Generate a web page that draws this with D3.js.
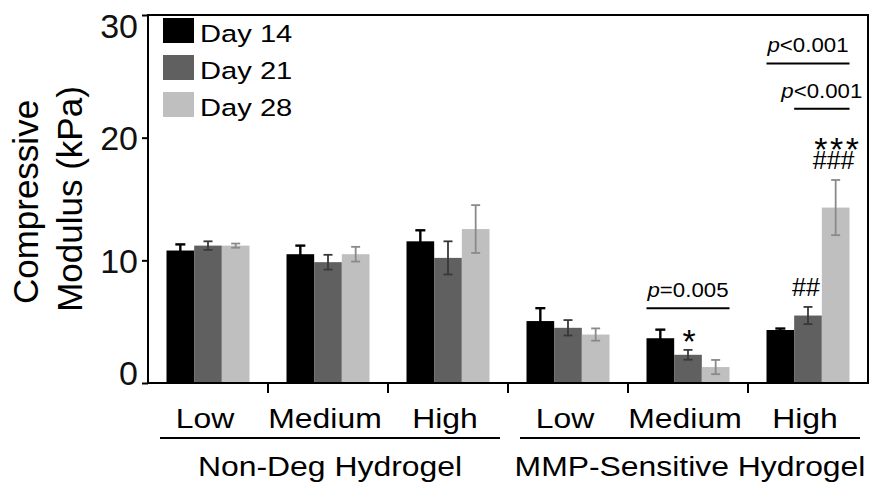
<!DOCTYPE html>
<html>
<head>
<meta charset="utf-8">
<script src="https://cdn.jsdelivr.net/npm/d3@7"></script>
<style>
  html, body { margin: 0; padding: 0; background: #fff; }
  svg { display: block; font-family: "Liberation Sans", Arial, Helvetica, sans-serif; }
</style>
</head>
<body>
<svg id="chart" width="875" height="484"></svg>
<script>
// ---------------- data ----------------
const groups = ["ND-Low", "ND-Medium", "ND-High", "MMP-Low", "MMP-Medium", "MMP-High"];
const groupLabels = ["Low", "Medium", "High", "Low", "Medium", "High"];
const hydrogelNames = ["Non-Deg Hydrogel", "MMP-Sensitive Hydrogel"];
const hydrogelOfGroup = [0, 0, 0, 1, 1, 1];
const series = ["Day 14", "Day 21", "Day 28"];
const day14 = [10.8, 10.5, 11.55, 5.05, 3.65, 4.32];
const day21 = [11.2, 9.85, 10.2, 4.5, 2.3, 5.5];
const day28 = [11.2, 10.5, 12.55, 3.95, 1.3, 14.3];
const day14Err = [0.5, 0.7, 0.9, 1.05, 0.7, 0.12];
const day21Err = [0.35, 0.6, 1.35, 0.63, 0.4, 0.7];
const day28Err = [0.17, 0.6, 1.95, 0.5, 0.58, 2.25];
const yTicks = [0, 10, 20, 30];
// significance brackets: group index, first/last series, level (kPa), label
const bracketGroup = [4, 5, 5];
const bracketFrom = [0, 0, 1];
const bracketTo = [2, 2, 2];
const bracketLevel = [6.1, 26.05, 22.35];
const bracketOp = ["=0.005", "<0.001", "<0.001"];
// significance symbols (stacked bottom-up per bar): group index, series index, text
const symGroup = [4, 5, 5, 5];
const symSeries = [1, 1, 2, 2];
const symText = ["*", "##", "###", "***"];

// ---------------- styles ----------------
const colors = ["#000000", "#606060", "#bfbfbf"];
const errColors = ["#000000", "#383838", "#8a8a8a"];

const values = [day14, day21, day28];
const errors = [day14Err, day21Err, day28Err];

const plot = { left: 148, right: 868, top: 15, bottom: 383 };

const svg = d3.select("#chart");

const x0 = d3.scaleBand().domain(groups).range([plot.left, plot.right]).paddingInner(0).paddingOuter(0);
const x1 = d3.scaleBand().domain(series).range([18.5, x0.bandwidth() - 18.5]).padding(0);
const y = d3.scaleLinear().domain([0, 30]).range([plot.bottom, plot.top]);

// ---------------- bars ----------------
const barData = [];
groups.forEach((g, gi) => series.forEach((s, si) => {
  barData.push({ g, gi, s, si, v: values[si][gi], e: errors[si][gi] });
}));

svg.append("g").selectAll("rect").data(barData).join("rect")
  .attr("x", d => x0(d.g) + x1(d.s))
  .attr("y", d => y(d.v))
  .attr("width", x1.bandwidth())
  .attr("height", d => y(0) - y(d.v))
  .attr("fill", d => colors[d.si]);

// error bars
const eg = svg.append("g");
barData.forEach(d => {
  const cx = x0(d.g) + x1(d.s) + x1.bandwidth() / 2;
  const col = errColors[d.si];
  const sw = d.si === 0 ? 2.4 : 1.8;
  const capW = d.si === 0 ? 5 : 4.5;
  eg.append("line").attr("x1", cx).attr("x2", cx)
    .attr("y1", y(d.v + d.e)).attr("y2", y(d.v - d.e))
    .attr("stroke", col).attr("stroke-width", sw);
  [d.v + d.e, d.v - d.e].forEach(t => {
    eg.append("line").attr("x1", cx - capW).attr("x2", cx + capW)
      .attr("y1", y(t)).attr("y2", y(t))
      .attr("stroke", col).attr("stroke-width", sw);
  });
});

// ---------------- frame & axes ----------------
svg.append("rect")
  .attr("x", plot.left).attr("y", plot.top)
  .attr("width", plot.right - plot.left).attr("height", plot.bottom - plot.top)
  .attr("fill", "none").attr("stroke", "#000").attr("stroke-width", 2);

const yAxis = d3.axisLeft(y).tickValues(yTicks).tickSize(6).tickPadding(4).tickFormat(d3.format("d"));
const yg = svg.append("g").attr("transform", `translate(${plot.left},0)`).call(yAxis);
yg.select(".domain").remove();
yg.selectAll(".tick line").attr("stroke", "#000").attr("stroke-width", 2);
yg.selectAll(".tick text")
  .attr("font-size", 34).attr("fill", "#111")
  .attr("font-family", "Liberation Sans, Arial, sans-serif")
  .attr("x", -10)
  .attr("dy", "0.36em")
  .attr("transform", function (d) {
    // keep end labels inside the frame height
    const py = y(d);
    const clamped = Math.max(plot.top + 10, Math.min(plot.bottom - 11, py));
    return `translate(0,${clamped - py})`;
  });

// bottom ticks at group boundaries
const boundaries = groups.slice(1).map(g => x0(g));
svg.append("g").selectAll("line").data(boundaries).join("line")
  .attr("x1", d => d).attr("x2", d => d)
  .attr("y1", plot.bottom).attr("y2", plot.bottom + 10)
  .attr("stroke", "#000").attr("stroke-width", 2);

// category labels
const labelSX = 1.16;
svg.append("g").selectAll("text").data(groups).join("text")
  .attr("transform", (g, i) => `translate(${x0(g) + x0.bandwidth() / 2 - 3},428) scale(${labelSX},1)`)
  .attr("text-anchor", "middle")
  .attr("font-size", 27.5)
  .attr("fill", "#000")
  .text((g, i) => groupLabels[i]);

// hydrogel underline & names
hydrogelNames.forEach((name, hi) => {
  const gs = groups.filter((g, i) => hydrogelOfGroup[i] === hi);
  const xa = x0(gs[0]) + 12;
  const xb = x0(gs[gs.length - 1]) + x0.bandwidth() - 8;
  svg.append("line").attr("x1", xa).attr("x2", xb).attr("y1", 438).attr("y2", 438)
    .attr("stroke", "#000").attr("stroke-width", 2);
  svg.append("text")
    .attr("transform", `translate(${(xa + xb) / 2},476) scale(${labelSX},1)`)
    .attr("text-anchor", "middle").attr("font-size", 27.5).attr("fill", "#000")
    .text(name);
});

// y-axis title
const yTitle = svg.append("g").attr("font-size", 35).attr("fill", "#000").attr("text-anchor", "middle");
yTitle.append("text").attr("transform", "translate(38,202) rotate(-90)").text("Compressive");
yTitle.append("text").attr("transform", "translate(82,199) rotate(-90)").text("Modulus (kPa)");

// ---------------- legend ----------------
const lg = svg.append("g");
series.forEach((s, i) => {
  const yy = 18 + i * 37;
  lg.append("rect").attr("x", 163).attr("y", yy).attr("width", 31).attr("height", 25).attr("fill", colors[i]);
  lg.append("text")
    .attr("transform", `translate(200,${yy + 24}) scale(1.24,1)`)
    .attr("font-size", 23.5).attr("fill", "#000").text(s);
});

// ---------------- significance annotations ----------------
const ag = svg.append("g");
bracketGroup.forEach((gi, k) => {
  const g = groups[gi];
  const xa = x0(g) + x1(series[bracketFrom[k]]);
  const xb = x0(g) + x1(series[bracketTo[k]]) + x1.bandwidth();
  const ly = y(bracketLevel[k]);
  ag.append("line").attr("x1", xa).attr("x2", xb).attr("y1", ly).attr("y2", ly)
    .attr("stroke", "#000").attr("stroke-width", 2);
  const t = ag.append("text")
    .attr("transform", `translate(${(xa + xb) / 2},${ly - 11}) scale(1.06,1)`)
    .attr("text-anchor", "middle").attr("font-size", 21).attr("fill", "#000");
  t.append("tspan").attr("font-style", "italic").text("p");
  t.append("tspan").text(bracketOp[k]);
});

// symbols: one text element per bar, lines stacked upward
const symBars = d3.groups(symGroup.map((gi, k) => ({ gi, si: symSeries[k], txt: symText[k] })),
  d => d.gi + "-" + d.si);
symBars.forEach(([key, items]) => {
  const { gi, si } = items[0];
  const g = groups[gi];
  const cx = x0(g) + x1(series[si]) + x1.bandwidth() / 2;
  let cur = y(values[si][gi] + errors[si][gi]);
  const t = ag.append("text").attr("text-anchor", "middle").attr("fill", "#000");
  items.forEach((it, j) => {
    const isStar = it.txt.includes("*");
    let base;
    if (isStar) {
      const fs = 34;
      const gap = j === 0 ? 12 : 5;
      const glyphBottom = cur - gap;
      base = glyphBottom + 0.43 * fs;
      cur = base - 0.73 * fs;
      const ls = it.txt.length > 1 ? 2.5 : 0;
      t.append("tspan").attr("x", cx + 1 + ls / 2).attr("y", base)
        .attr("font-size", fs).attr("letter-spacing", ls).text(it.txt);
    } else {
      const fs = 25;
      base = cur - 11;
      cur = base - 0.72 * fs;
      t.append("tspan").attr("x", cx - 2).attr("y", base)
        .attr("font-size", fs).text(it.txt);
    }
  });
});
</script>
</body>
</html>
